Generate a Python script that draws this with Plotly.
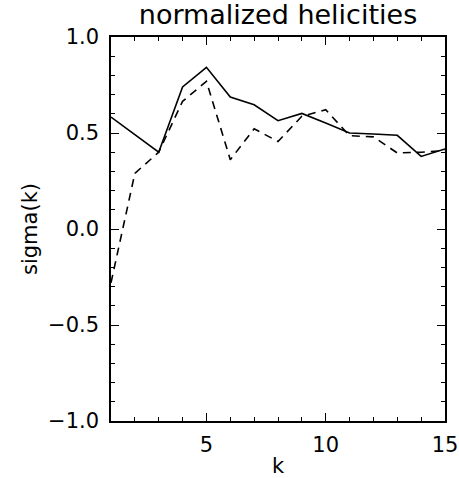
import plotly.graph_objects as go

k = list(range(1, 16))
sigma_solid = [0.583, 0.49, 0.40, 0.74, 0.842, 0.687, 0.647, 0.564, 0.602, 0.552, 0.50, 0.495, 0.488, 0.378, 0.417]
sigma_dashed = [-0.28, 0.29, 0.40, 0.665, 0.769, 0.361, 0.522, 0.456, 0.587, 0.621, 0.486, 0.48, 0.396, 0.40, 0.408]

title_text = "normalized helicities"
x_title = "k"
y_title = "sigma(k)"

FONT = "DejaVu Sans"

fig = go.Figure()
fig.add_trace(go.Scatter(x=k, y=sigma_solid, mode="lines",
                         line=dict(color="black", width=1.6), showlegend=False))
fig.add_trace(go.Scatter(x=k, y=sigma_dashed, mode="lines",
                         line=dict(color="black", width=1.6, dash="8px,6px"), showlegend=False))

axis_common = dict(
    showgrid=False, zeroline=False, showline=True, linecolor="black", linewidth=1.5,
    mirror="allticks", ticks="inside", tickcolor="black", tickwidth=1.2, ticklen=8,
    tickfont=dict(family=FONT, size=21, color="black"), automargin=False,
)

fig.update_xaxes(range=[1, 15], tick0=0, dtick=5, ticklabelstandoff=4,
                 minor=dict(ticks="inside", dtick=1, tick0=0, ticklen=4, tickcolor="black", tickwidth=1.2),
                 title=dict(text=x_title, font=dict(family=FONT, size=21, color="black"), standoff=2),
                 **axis_common)
fig.update_yaxes(range=[-1, 1], tick0=0, dtick=0.5, tickformat=".1f", ticklabelstandoff=6,
                 minor=dict(ticks="inside", dtick=0.1, tick0=0, ticklen=4, tickcolor="black", tickwidth=1.2),
                 title=dict(text=y_title, font=dict(family=FONT, size=21, color="black"), standoff=5),
                 **axis_common)

fig.update_layout(
    width=459, height=478,
    margin=dict(l=111, r=14, t=37, b=57),
    paper_bgcolor="white", plot_bgcolor="white",
    title=dict(text=title_text, x=0.5, xanchor="center", xref="paper", y=0.97, yanchor="middle",
               font=dict(family=FONT, size=27, color="black")),
)

fig.write_html("out.html", config={"displayModeBar": False},
               post_script="document.body.style.margin='0px';document.body.style.padding='0px';")
